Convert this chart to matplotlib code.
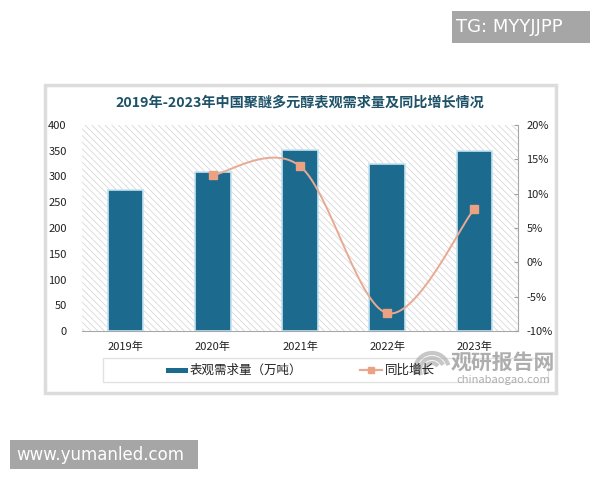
# -*- coding: utf-8 -*-
import numpy as np
import matplotlib
matplotlib.use("Agg")
from matplotlib import pyplot as plt
from matplotlib.patches import Rectangle, Arc
from matplotlib.lines import Line2D

plt.rcParams['font.family'] = ['Noto Sans CJK SC', 'DejaVu Sans']
plt.rcParams['hatch.linewidth'] = 0.6

years = ['2019年', '2020年', '2021年', '2022年', '2023年']
demand = [273, 308, 351, 325, 350]          # 表观需求量（万吨）
growth_years = [1, 2, 3, 4]                  # index of years with growth data
growth = [12.7, 14.0, -7.4, 7.8]             # 同比增长 %
left_ticks = [0, 50, 100, 150, 200, 250, 300, 350, 400]
right_ticks = [-10, -5, 0, 5, 10, 15, 20]

bar_color = '#1c6a8e'
line_color = '#e8aa92'
marker_color = '#eba283'

W, H = 600, 480
fig = plt.figure(figsize=(6, 4.8), dpi=100)

def px(x, y):
    return x / W, 1 - y / H

# card behind the chart
card = Rectangle(px(45, 393), (556 - 45) / W, (393 - 85) / H, transform=fig.transFigure,
                 facecolor='white', edgecolor='#dcdcdc', lw=2.5, zorder=-2)
fig.patches.append(card)
fig.patches.append(Rectangle(px(103, 382), (548 - 103) / W, (382 - 358) / H,
                             transform=fig.transFigure, facecolor='white',
                             edgecolor='#e2e2e2', lw=1, zorder=-1))

ax = fig.add_axes([82 / W, 1 - 331 / H, (518 - 82) / W, (331 - 125) / H])
ax.set_facecolor('none')
ax.add_patch(Rectangle((0, 0), 1, 1, transform=ax.transAxes, facecolor='white',
                       edgecolor='#d8d8d8', hatch='\\\\\\\\\\', lw=0, zorder=0))

x = np.arange(len(years))
ax.bar(x, demand, width=0.41, color=bar_color, edgecolor='#c4e4f0', lw=1.2, zorder=2)
ax.set_xlim(-0.5, len(years) - 0.5)
ax.set_ylim(0, 400)
ax.set_yticks(left_ticks)
ax.set_xticks(x)
ax.set_xticklabels(years)
ax.tick_params(axis='both', length=0, labelsize=8, colors='#222222')
ax.tick_params(axis='x', pad=8)
ax.tick_params(axis='y', pad=11)
for s in ['top', 'left', 'right']:
    ax.spines[s].set_visible(False)
ax.spines['bottom'].set_color('#a8a8a8')

ax2 = ax.twinx()
ax2.set_ylim(-10, 20)
ax2.set_yticks(right_ticks)
ax2.set_yticklabels([f'{t}%' for t in right_ticks])
ax2.tick_params(axis='y', direction='in', length=3, labelsize=8, pad=6,
                colors='#a0a0a0', labelcolor='#222222')
for s in ['top', 'left', 'bottom']:
    ax2.spines[s].set_visible(False)
ax2.spines['right'].set_color('#a8a8a8')

# smooth line like excel (bezier through points)
P = np.column_stack([growth_years, growth]).astype(float)
curve = []
n = len(P)
for i in range(n - 1):
    p0 = P[max(i - 1, 0)]
    p1 = P[i]
    p2 = P[i + 1]
    p3 = P[min(i + 2, n - 1)]
    c1 = p1 + (p2 - p0) / 6
    c2 = p2 - (p3 - p1) / 6
    t = np.linspace(0, 1, 40)[:, None]
    seg = (1 - t) ** 3 * p1 + 3 * (1 - t) ** 2 * t * c1 + 3 * (1 - t) * t ** 2 * c2 + t ** 3 * p2
    curve.append(seg)
curve = np.vstack(curve)
ax2.plot(curve[:, 0], curve[:, 1], color=line_color, lw=1.4, zorder=3)
ax2.plot(growth_years, growth, ls='none', marker='s', ms=5.5, color=marker_color, zorder=4)

# title
fig.text(0.5, 1 - 103 / H, '2019年-2023年中国聚醚多元醇表观需求量及同比增长情况',
         ha='center', va='center', fontsize=10.2, fontweight='bold', color='#1e5268')

# legend, drawn by hand to sit where the reference has it
fig.patches.append(Rectangle(px(166, 373), 22 / W, 5 / H, transform=fig.transFigure,
                             facecolor=bar_color, edgecolor='none'))
fig.text(190 / W, 1 - 370 / H, '表观需求量（万吨）', ha='left', va='center', fontsize=9, color='#222222')
fig.add_artist(Line2D([360 / W, 382 / W], [1 - 370 / H, 1 - 370 / H], transform=fig.transFigure,
                      color=line_color, lw=1.6))
fig.add_artist(Line2D([371 / W], [1 - 370 / H], transform=fig.transFigure, ls='none',
                      marker='s', ms=5, color=marker_color))
fig.text(385 / W, 1 - 370 / H, '同比增长', ha='left', va='center', fontsize=9, color='#222222')

# watermark
fig.text(503 / W, 1 - 362 / H, '观研报告网', ha='center', va='center', fontsize=15,
         fontweight='bold', color='#9a9a9a', alpha=0.8)
fig.text(503 / W, 1 - 380 / H, 'chinabaogao.com', ha='center', va='center', fontsize=8,
         color='#9a9a9a', alpha=0.8)
for r, a0, a1 in [(34, 20, 200), (24, 30, 210), (14, 40, 220)]:
    fig.patches.append(Arc(px(432, 370), r / W, r / H, theta1=a0, theta2=a1,
                           transform=fig.transFigure, color='#b0b0b0', lw=3, alpha=0.7))

# corner labels
fig.patches.append(Rectangle(px(452, 43), (590 - 452) / W, (43 - 11) / H, transform=fig.transFigure,
                             facecolor='#a6a6a6', edgecolor='none'))
fig.text(456 / W, 1 - 27 / H, 'TG: MYYJJPP', ha='left', va='center', fontsize=13,
         color='white', family='DejaVu Sans')
fig.patches.append(Rectangle(px(10, 469), (198 - 10) / W, (469 - 440) / H, transform=fig.transFigure,
                             facecolor='#a6a6a6', edgecolor='none'))
fig.text(16 / W, 1 - 455 / H, 'www.yumanled.com', ha='left', va='center', fontsize=12,
         color='white', family='DejaVu Sans')

fig.savefig('out.png', dpi=100)
